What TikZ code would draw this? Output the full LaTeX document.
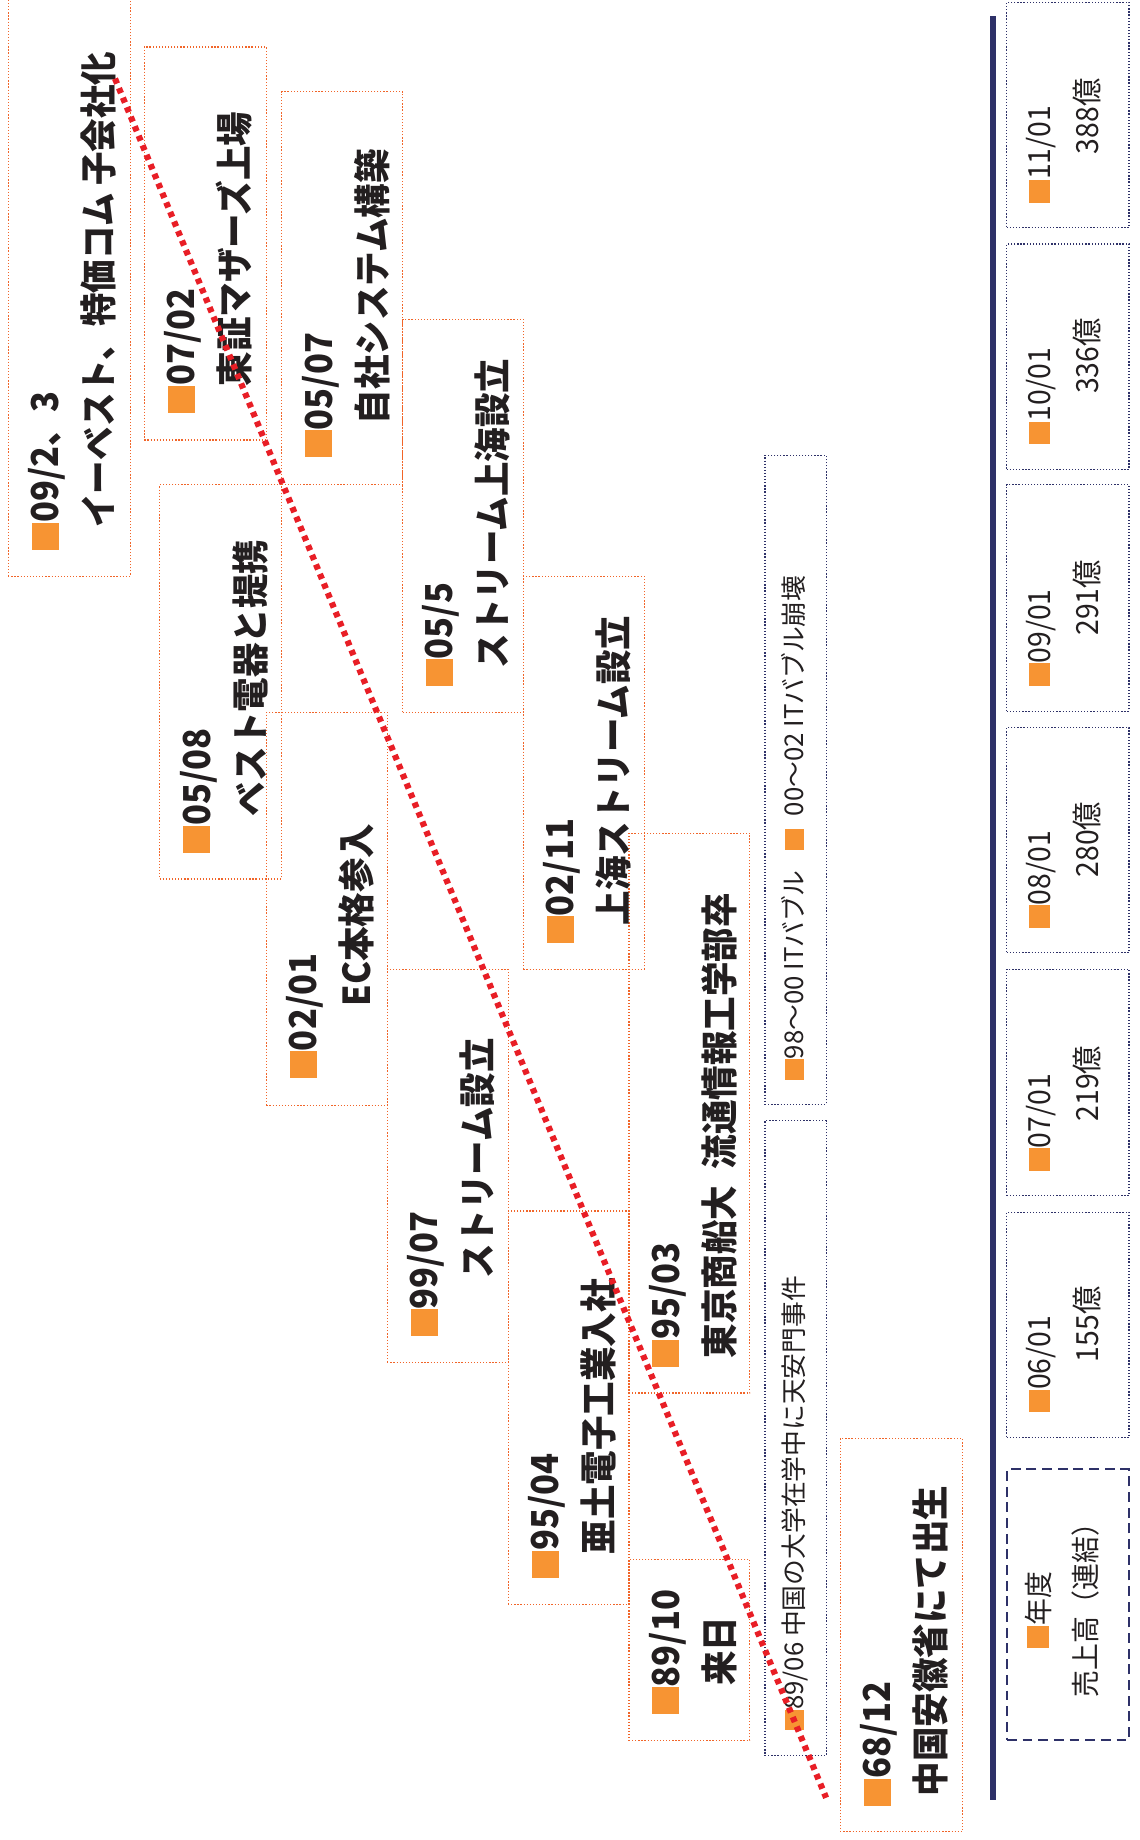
\documentclass[tikz,border=0pt]{standalone}
\usepackage{fontspec}
\setmainfont{Noto Sans CJK JP}
\newfontfamily\cjkc[FakeStretch=0.93]{Noto Sans CJK JP}
\usetikzlibrary{fit,calc}

\definecolor{boxor}{RGB}{241,101,41}
\definecolor{sqor}{RGB}{247,148,51}
\definecolor{navy}{RGB}{46,49,104}
\definecolor{dotred}{RGB}{232,30,38}
\definecolor{ink}{RGB}{35,31,32}

\newcommand\sqbox[2]{\textcolor{sqor}{\rule{#1}{#2}}}
\newcommand\sqbig{\sqbox{13.1pt}{13.1pt}}
\newcommand\sqsmall{\sqbox{10pt}{9pt}}
\newcommand\sqsale{\sqbox{11pt}{10.5pt}}

\begin{document}
\begin{tikzpicture}[x=0.02cm,y=-0.02cm,
  evbox/.style={draw=boxor, line width=0.6pt, dash pattern=on 0.6pt off 0.9pt, inner sep=0pt},
  nvbox/.style={draw=navy, line width=0.6pt, dash pattern=on 0.6pt off 0.9pt, inner sep=0pt},
  lgbox/.style={draw=navy, line width=1.1pt, dash pattern=on 4.8pt off 2.8pt, inner sep=0pt},
  rottext/.style={rotate=90, anchor=base west, inner sep=0pt, text=ink},
  evtext/.style={rottext, font=\cjkc\fontsize{18pt}{20pt}\selectfont\bfseries},
  evtextc/.style={rottext, font=\cjkc\fontsize{18pt}{20pt}\selectfont\bfseries, xscale=0.97},
  smalltext/.style={rottext, font=\fontsize{12.5pt}{14pt}\selectfont},
  saletext/.style={rottext, font=\cjkc\fontsize{14.8pt}{16pt}\selectfont},
  lgtext/.style={rottext, font=\cjkc\fontsize{14pt}{16pt}\selectfont},
  redline/.style={draw=dotred, line width=3pt, dash pattern=on 2.6pt off 2.4pt},
  navyline/.style={draw=navy, line width=2.9pt}
]
\useasboundingbox (0,0) rectangle (971,1568);

% event boxes
\node[evbox, fit={(7,-5) (111,491)}] (b1) {};
\node[evbox, fit={(123,40) (227,375)}] (b2) {};
\node[evbox, fit={(240,78) (343,413)}] (b3) {};
\node[evbox, fit={(343,272) (446,607)}] (b4) {};
\node[evbox, fit={(446,491) (549,826)}] (b5) {};
\node[evbox, fit={(536,710) (639,1187)}] (b6) {};
\node[evbox, fit={(536,1329) (639,1483)}] (b7) {};
\node[evbox, fit={(136,413) (240,749)}] (b8) {};
\node[evbox, fit={(227,607) (330,942)}] (b9) {};
\node[evbox, fit={(330,826) (433,1161)}] (b10) {};
\node[evbox, fit={(433,1032) (536,1367)}] (b11) {};
\node[evbox, fit={(716,1226) (820,1561)}] (b12) {};

\node[evtext] (d1) at (50,469) {\sqbig{}09/2、3};
\node[evtextc] (e1) at (96,450) {イーベスト、特価コム\hspace{0.2em}子会社化};
\node[evtext] (d2) at (166,352) {\sqbig{}07/02};
\node[evtext] (e2) at (212,329.5) {東証マザーズ上場};
\node[evtext] (d3) at (283,390) {\sqbig{}05/07};
\node[evtext] (e3) at (329,362) {自社システム構築};
\node[evtext] (d4) at (386,585) {\sqbig{}05/5};
\node[evtext] (e4) at (432,570) {ストリーム上海設立};
\node[evtext] (d5) at (489,804) {\sqbig{}02/11};
\node[evtext] (e5) at (535,789) {上海ストリーム設立};
\node[evtext] (d6) at (579,1165) {\sqbig{}95/03};
\node[evtext] (e6) at (625,1158) {東京商船大\hspace{0.45em}流通情報工学部卒};
\node[evtext] (d7) at (579,1461) {\sqbig{}89/10};
\node[evtext] (e7) at (625,1437) {来日};
\node[evtext] (d8) at (179,727) {\sqbig{}05/08};
\node[evtext] (e8) at (225,696) {ベスト電器と提携};
\node[evtext] (d9) at (270,919) {\sqbig{}02/01};
\node[evtext] (e9) at (316,858) {EC本格参入};
\node[evtext] (d10) at (373,1139) {\sqbig{}99/07};
\node[evtext] (e10) at (419,1090) {ストリーム設立};
\node[evtext] (d11) at (476,1345) {\sqbig{}95/04};
\node[evtext] (e11) at (522,1325) {亜土電子工業入社};
\node[evtext] (d12) at (759,1539) {\sqbig{}68/12};
\node[evtext] (e12) at (805,1531) {中国安徽省にて出生};

% navy note boxes
\node[nvbox, fit={(652,955) (704,1496)}] (b13) {};
\node[smalltext] (t13) at (685,1475) {\sqsmall{}89/06 中国の大学在学中に天安門事件};
\node[nvbox, fit={(652,388) (704,941)}] (b14) {};
\node[smalltext] (t14) at (685,920.6) {\sqsmall{}98～00 ITバブル\hspace{0.8em}\sqsmall{}\hspace{0.5em}00～02 ITバブル崩壊};

% sales boxes
\node[nvbox, fit={(858,2) (962,194)}] (s11) {};
\node[saletext] (s11a) at (895,173) {\sqsale{}11/01};
\node[saletext] (s11b) at (936,131.7) {388億};
\node[nvbox, fit={(858,208) (962,400)}] (s10) {};
\node[saletext] (s10a) at (895,379) {\sqsale{}10/01};
\node[saletext] (s10b) at (936,336) {336億};
\node[nvbox, fit={(858,413) (962,606)}] (s09) {};
\node[saletext] (s09a) at (895,585) {\sqsale{}09/01};
\node[saletext] (s09b) at (936,542) {291億};
\node[nvbox, fit={(858,620) (962,812)}] (s08) {};
\node[saletext] (s08a) at (895,791) {\sqsale{}08/01};
\node[saletext] (s08b) at (936,748) {280億};
\node[nvbox, fit={(858,826) (962,1019)}] (s07) {};
\node[saletext] (s07a) at (895,998) {\sqsale{}07/01};
\node[saletext] (s07b) at (936,956) {219億};
\node[nvbox, fit={(858,1033) (962,1225)}] (s06) {};
\node[saletext] (s06a) at (895,1204) {\sqsale{}06/01};
\node[saletext] (s06b) at (936,1161) {155億};

% legend
\node[lgbox, fit={(858,1252) (962,1483)}] (lg) {};
\node[lgtext] (lga) at (894,1405) {\sqsale{}年度};
\node[lgtext] (lgb) at (934,1447) {売上高（連結）};

% navy axis line
\coordinate (nt) at (846,14);
\coordinate (nb) at (846,1534);
\draw[navyline] (nt) -- (nb);

% red trend line
\coordinate (rs) at (98,67);
\coordinate (re) at (704,1532);
\draw[redline] (rs) -- (re);
\end{tikzpicture}
\end{document}
